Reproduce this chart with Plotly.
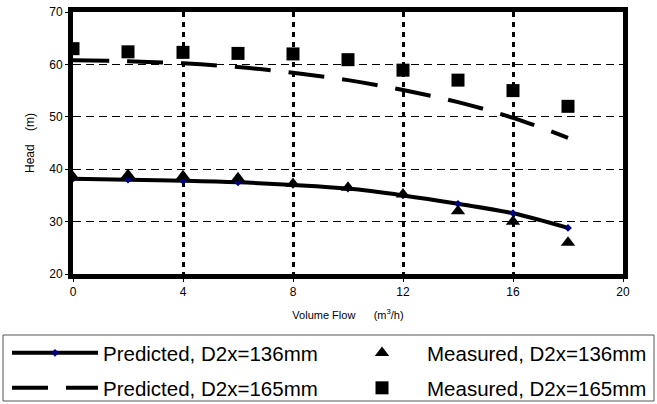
import plotly.graph_objects as go

flow = [0, 2, 4, 6, 8, 10, 12, 14, 16, 18]
pred_136 = [38.2, 38.0, 37.8, 37.5, 37.0, 36.3, 35.0, 33.4, 31.6, 28.8]
meas_136 = [38.5, 38.9, 38.7, 38.3, 37.2, 36.5, 35.2, 32.0, 30.0, 26.0]
pred_165 = [60.8, 60.6, 60.2, 59.5, 58.4, 57.0, 55.1, 52.8, 49.8, 46.0]
meas_165 = [63.0, 62.4, 62.3, 62.1, 62.0, 60.9, 58.9, 57.0, 55.0, 52.0]

x_ticks = [0, 4, 8, 12, 16, 20]
y_ticks = [20, 30, 40, 50, 60, 70]

# plot area in pixels: x 73..623, y 12..274
PL, PR, PT, PB = 73, 623, 12, 274
W, H = 657, 404
pw, ph = PR - PL, PB - PT


def px_x(p):
    return (p - PL) / pw


def px_y(p):
    return (PB - p) / ph


fig = go.Figure()
fig.add_trace(go.Scatter(
    x=flow, y=pred_136, mode="lines+markers", name="Predicted, D2x=136mm",
    line=dict(color="black", width=4, shape="spline"),
    marker=dict(symbol="diamond", size=6, color="#000080"),
    legend="legend",
))
fig.add_trace(go.Scatter(
    x=flow, y=meas_136, mode="markers", name="Measured, D2x=136mm",
    marker=dict(symbol="triangle-up", size=12.5, color="black"),
    legend="legend2",
))
fig.add_trace(go.Scatter(
    x=flow, y=pred_165, mode="lines", name="Predicted, D2x=165mm",
    line=dict(color="black", width=4, dash="36px,18px", shape="spline"),
    legend="legend3",
))
fig.add_trace(go.Scatter(
    x=flow, y=meas_165, mode="markers", name="Measured, D2x=165mm",
    marker=dict(symbol="square", size=13, color="black"),
    legend="legend4",
))

LEG_FONT = dict(size=20.5, family="Arial, Liberation Sans, sans-serif", color="black")


def leg(xpx, ypx, iw):
    return dict(
        orientation="v", xanchor="left", yanchor="middle",
        x=px_x(xpx), y=px_y(ypx), itemwidth=iw,
        bgcolor="rgba(0,0,0,0)", borderwidth=0, font=LEG_FONT,
    )


NB = "\u00a0"

fig.update_layout(
    width=W, height=H,
    margin=dict(l=PL, r=W - PR, t=PT, b=H - PB, autoexpand=False),
    paper_bgcolor="white", plot_bgcolor="white",
    font=dict(family="Arial, Liberation Sans, sans-serif", color="black"),
    showlegend=True,
    legend=leg(7, 353, 86),
    legend2=leg(337, 353, 80),
    legend3=leg(7, 388, 86),
    legend4=leg(337, 388, 80),
    shapes=[dict(
        type="rect", xref="paper", yref="paper",
        x0=px_x(3), x1=px_x(654), y0=px_y(335), y1=px_y(401),
        line=dict(color="#555555", width=1), fillcolor="rgba(0,0,0,0)",
        layer="below",
    )],
    xaxis=dict(
        range=[0, 20], tickvals=x_ticks, ticktext=[str(v) for v in x_ticks],
        showgrid=True, gridcolor="black", gridwidth=3, griddash="5px,5px",
        showline=True, linecolor="black", linewidth=5, mirror=True,
        zeroline=False, ticks="outside", ticklen=3, tickcolor="black",
        tickfont=dict(size=12),
        title=dict(text="Volume Flow" + NB * 6 + "(m<sup>3</sup>/h)", font=dict(size=11), standoff=14),
    ),
    yaxis=dict(
        range=[20, 70], tickvals=y_ticks, ticktext=[str(v) for v in y_ticks],
        showgrid=True, gridcolor="black", gridwidth=1, griddash="8px,5px",
        showline=True, linecolor="black", linewidth=5, mirror=True,
        zeroline=False, ticks="outside", ticklen=3, tickcolor="black",
        tickfont=dict(size=12),
        title=dict(text="Head" + NB * 4 + "(m)", font=dict(size=12), standoff=14),
    ),
)

fig.write_html("out.html")
